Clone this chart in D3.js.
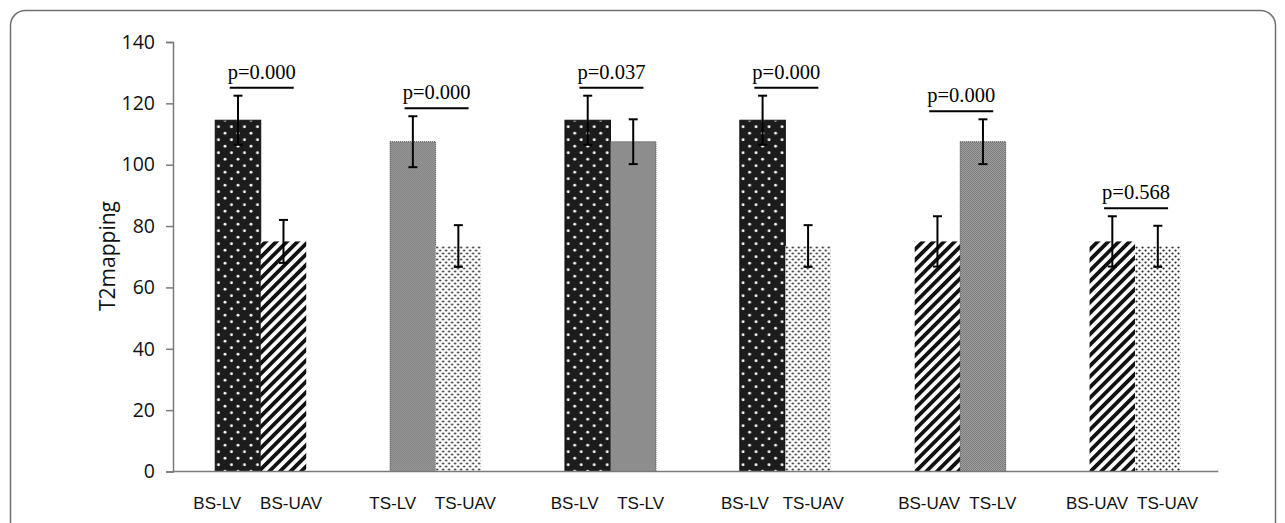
<!DOCTYPE html>
<html>
<head>
<meta charset="utf-8">
<script src="https://cdn.jsdelivr.net/npm/d3@7"></script>
<style>
  html, body { margin: 0; padding: 0; background: #fff; }
  svg { display: block; }
</style>
</head>
<body>
<script>
// comparisons, left to right
const groups = ['g1', 'g2', 'g3', 'g4', 'g5', 'g6'];
const groupLabels = ['BS-LV    BS-UAV', 'TS-LV    TS-UAV', 'BS-LV    TS-LV',
                     'BS-LV   TS-UAV', 'BS-UAV  TS-LV', 'BS-UAV  TS-UAV'];
// which measurement each bar of the pair shows
const leftKind  = ['BS-LV', 'TS-LV', 'BS-LV', 'BS-LV', 'BS-UAV', 'BS-UAV'];
const rightKind = ['BS-UAV', 'TS-UAV', 'TS-LV', 'TS-UAV', 'TS-LV', 'TS-UAV'];
const leftMean  = [114.5, 107.5, 114.5, 114.5, 75.0, 75.0];
const leftSd    = [8.0, 8.3, 8.0, 8.0, 8.2, 8.2];
const rightMean = [75.0, 73.5, 107.5, 73.5, 107.5, 73.4];
const rightSd   = [7.0, 6.8, 7.3, 6.8, 7.3, 6.7];
const pValues   = ['p=0.000', 'p=0.000', 'p=0.037', 'p=0.000', 'p=0.000', 'p=0.568'];
const yTicks    = [0, 20, 40, 60, 80, 100, 120, 140];

const W = 1285, H = 523;
const svg = d3.select('body').append('svg').attr('width', W).attr('height', H);

const defs = svg.append('defs');

// black with white dots
const pDark = defs.append('pattern').attr('id', 'pDark')
  .attr('patternUnits', 'userSpaceOnUse').attr('width', 13).attr('height', 13);
pDark.append('rect').attr('width', 13).attr('height', 13).attr('fill', '#1c1c1c');
pDark.append('circle').attr('cx', 3.25).attr('cy', 3.25).attr('r', 1.4).attr('fill', '#fff');
pDark.append('circle').attr('cx', 9.75).attr('cy', 9.75).attr('r', 1.4).attr('fill', '#fff');

// diagonal hatching
const pStripe = defs.append('pattern').attr('id', 'pStripe')
  .attr('patternUnits', 'userSpaceOnUse').attr('width', 7.5).attr('height', 7.5)
  .attr('patternTransform', 'rotate(45)');
pStripe.append('rect').attr('width', 7.5).attr('height', 7.5).attr('fill', '#fff');
pStripe.append('rect').attr('width', 3.8).attr('height', 7.5).attr('fill', '#111');

// fine grey dither
const pGrey = defs.append('pattern').attr('id', 'pGrey')
  .attr('patternUnits', 'userSpaceOnUse').attr('width', 2).attr('height', 2);
pGrey.append('rect').attr('width', 2).attr('height', 2).attr('fill', '#ababab');
pGrey.append('rect').attr('width', 1).attr('height', 1).attr('fill', '#707070');
pGrey.append('rect').attr('x', 1).attr('y', 1).attr('width', 1).attr('height', 1).attr('fill', '#707070');

// white with small dots
const pLight = defs.append('pattern').attr('id', 'pLight')
  .attr('patternUnits', 'userSpaceOnUse').attr('width', 6).attr('height', 6);
pLight.append('rect').attr('width', 6).attr('height', 6).attr('fill', '#fff');
pLight.append('circle').attr('cx', 1.5).attr('cy', 1.5).attr('r', 1.1).attr('fill', '#222');
pLight.append('circle').attr('cx', 4.5).attr('cy', 4.5).attr('r', 1.1).attr('fill', '#222');

const fillFor = {
  'BS-LV': 'url(#pDark)',
  'BS-UAV': 'url(#pStripe)',
  'TS-LV': 'url(#pGrey)',
  'TS-UAV': 'url(#pLight)'
};

// frame
svg.append('rect')
  .attr('x', 10.5).attr('y', 10.5).attr('width', 1265).attr('height', 560)
  .attr('rx', 15).attr('fill', 'none').attr('stroke', '#707070').attr('stroke-width', 1.5);

const x = d3.scaleBand().domain(groups).range([173.3, 1222.5]).padding(0);
const y = d3.scaleLinear().domain([0, 140]).range([471.5, 42]);
const inner = d3.scaleBand().domain(['L', 'R']).range([-45.5, 45.5]).padding(0);

const axisColor = '#7a7a7a';

// y axis
const yAxis = svg.append('g').attr('transform', 'translate(173,0)')
  .call(d3.axisLeft(y).tickValues(yTicks).tickSize(7).tickPadding(11));
yAxis.select('.domain').attr('stroke', axisColor).attr('stroke-width', 1.5);
yAxis.selectAll('.tick line').attr('stroke', axisColor).attr('stroke-width', 1.5);
yAxis.selectAll('.tick text')
  .attr('font-family', '"Open Sans", sans-serif').attr('font-size', 19.5).attr('fill', '#111');

svg.append('text')
  .attr('transform', 'translate(115,256) rotate(-90)')
  .attr('text-anchor', 'middle')
  .attr('font-family', '"Open Sans", sans-serif').attr('font-size', 21).attr('fill', '#111')
  .text('T2mapping');

// rows of bars
const rows = groups.map((g, i) => ({
  g, i,
  bars: [
    { side: 'L', kind: leftKind[i], mean: leftMean[i], sd: leftSd[i] },
    { side: 'R', kind: rightKind[i], mean: rightMean[i], sd: rightSd[i] }
  ]
}));

const gg = svg.selectAll('.grp').data(rows).enter().append('g')
  .attr('class', 'grp')
  .attr('transform', d => `translate(${x(d.g) + x.bandwidth() / 2},0)`);

gg.selectAll('rect.bar').data(d => d.bars).enter().append('rect')
  .attr('class', 'bar')
  .attr('x', d => inner(d.side))
  .attr('width', inner.bandwidth())
  .attr('y', d => y(d.mean))
  .attr('height', d => y(0) - y(d.mean))
  .attr('fill', d => fillFor[d.kind])
  .attr('stroke', d => d.kind === 'TS-LV' ? '#4a4a4a' : (d.kind === 'BS-LV' ? '#111' : 'none'))
  .attr('stroke-width', 1)
  .attr('stroke-dasharray', d => d.kind === 'TS-LV' ? '1,1' : null);

// error bars
const eb = gg.selectAll('g.err').data(d => d.bars).enter().append('g')
  .attr('class', 'err')
  .attr('transform', d => `translate(${inner(d.side) + inner.bandwidth() / 2},0)`);
eb.append('line')
  .attr('y1', d => y(d.mean + d.sd)).attr('y2', d => y(d.mean - d.sd))
  .attr('stroke', '#000').attr('stroke-width', 2);
eb.append('line')
  .attr('x1', -4.5).attr('x2', 4.5)
  .attr('y1', d => y(d.mean + d.sd)).attr('y2', d => y(d.mean + d.sd))
  .attr('stroke', '#000').attr('stroke-width', 2);
eb.append('line')
  .attr('x1', -4.5).attr('x2', 4.5)
  .attr('y1', d => y(d.mean - d.sd)).attr('y2', d => y(d.mean - d.sd))
  .attr('stroke', '#000').attr('stroke-width', 2);

// significance line + p value
const topOf = d => d3.min(d.bars, b => y(b.mean + b.sd)) - 8;
gg.append('line')
  .attr('x1', -31).attr('x2', 33)
  .attr('y1', topOf).attr('y2', topOf)
  .attr('stroke', '#000').attr('stroke-width', 2);
gg.append('text')
  .attr('x', 1).attr('y', d => topOf(d) - 9)
  .attr('text-anchor', 'middle')
  .attr('font-family', '"Liberation Serif", "Times New Roman", serif')
  .attr('font-size', 20.5).attr('fill', '#000')
  .text(d => pValues[d.i]);

// x axis baseline
svg.append('line')
  .attr('x1', 173).attr('x2', 1218.3)
  .attr('y1', y(0)).attr('y2', y(0))
  .attr('stroke', axisColor).attr('stroke-width', 1.5);

// category labels
svg.selectAll('.xl').data(groups).enter().append('text')
  .attr('class', 'xl')
  .attr('x', g => x(g) + x.bandwidth() / 2 - 3)
  .attr('y', 509)
  .attr('text-anchor', 'middle')
  .style('white-space', 'pre')
  .attr('font-family', '"Liberation Sans", Arial, sans-serif')
  .attr('font-size', 17).attr('fill', '#111')
  .text((g, i) => groupLabels[i]);
</script>
</body>
</html>
